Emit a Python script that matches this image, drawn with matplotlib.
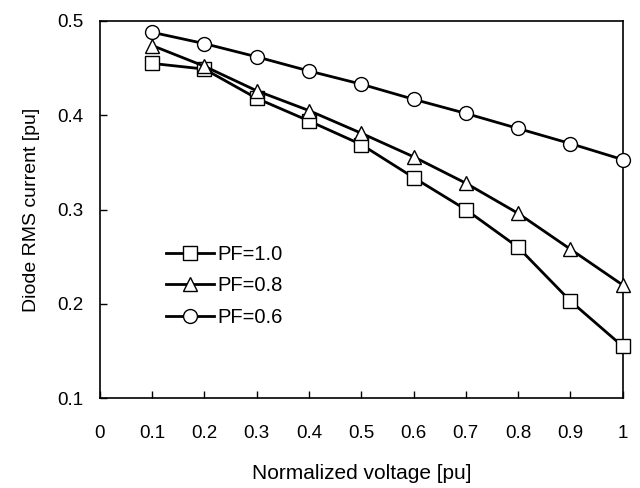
import matplotlib
matplotlib.use("Agg")
import matplotlib.pyplot as plt

plt.rcParams['font.family'] = ['Liberation Sans', 'DejaVu Sans']

voltage = [0.1, 0.2, 0.3, 0.4, 0.5, 0.6, 0.7, 0.8, 0.9, 1.0]
pf10 = [0.455, 0.449, 0.418, 0.394, 0.369, 0.334, 0.300, 0.260, 0.203, 0.155]
pf08 = [0.474, 0.452, 0.426, 0.405, 0.381, 0.356, 0.328, 0.296, 0.258, 0.220]
pf06 = [0.488, 0.476, 0.462, 0.447, 0.433, 0.417, 0.402, 0.386, 0.370, 0.353]
labels = ['PF=1.0', 'PF=0.8', 'PF=0.6']
markers = ['s', '^', 'o']

xticks = [0, 0.1, 0.2, 0.3, 0.4, 0.5, 0.6, 0.7, 0.8, 0.9, 1]
xticklabels = ['0', '0.1', '0.2', '0.3', '0.4', '0.5', '0.6', '0.7', '0.8', '0.9', '1']
yticks = [0.1, 0.2, 0.3, 0.4, 0.5]

fig = plt.figure(figsize=(6.4, 4.88), dpi=100)
ax = fig.add_axes([0.156, 0.184, 0.817, 0.773])

for ys, lab, m in zip([pf10, pf08, pf06], labels, markers):
    ax.plot(voltage, ys, color='black', lw=2.0, marker=m, markersize=10,
            markerfacecolor='white', markeredgecolor='black', markeredgewidth=1.0,
            label=lab, clip_on=False, zorder=3)

ax.set_xlim(0, 1)
ax.set_ylim(0.1, 0.5)
ax.set_xticks(xticks)
ax.set_xticklabels(xticklabels)
ax.set_yticks(yticks)
ax.tick_params(direction='in', length=5, width=1, labelsize=13.5)
ax.tick_params(axis='x', pad=19)
ax.tick_params(axis='y', pad=12)
for s in ax.spines.values():
    s.set_linewidth(1.2)

ax.set_xlabel('Normalized voltage [pu]', fontsize=15, labelpad=16)
ax.set_ylabel('Diode RMS current [pu]', fontsize=14, labelpad=12)

ax.legend(loc='upper left', bbox_to_anchor=(0.092, 0.455), frameon=False, fontsize=14.5,
          handlelength=2.4, handletextpad=0.15, labelspacing=0.62)

fig.savefig('out.png', dpi=100)
